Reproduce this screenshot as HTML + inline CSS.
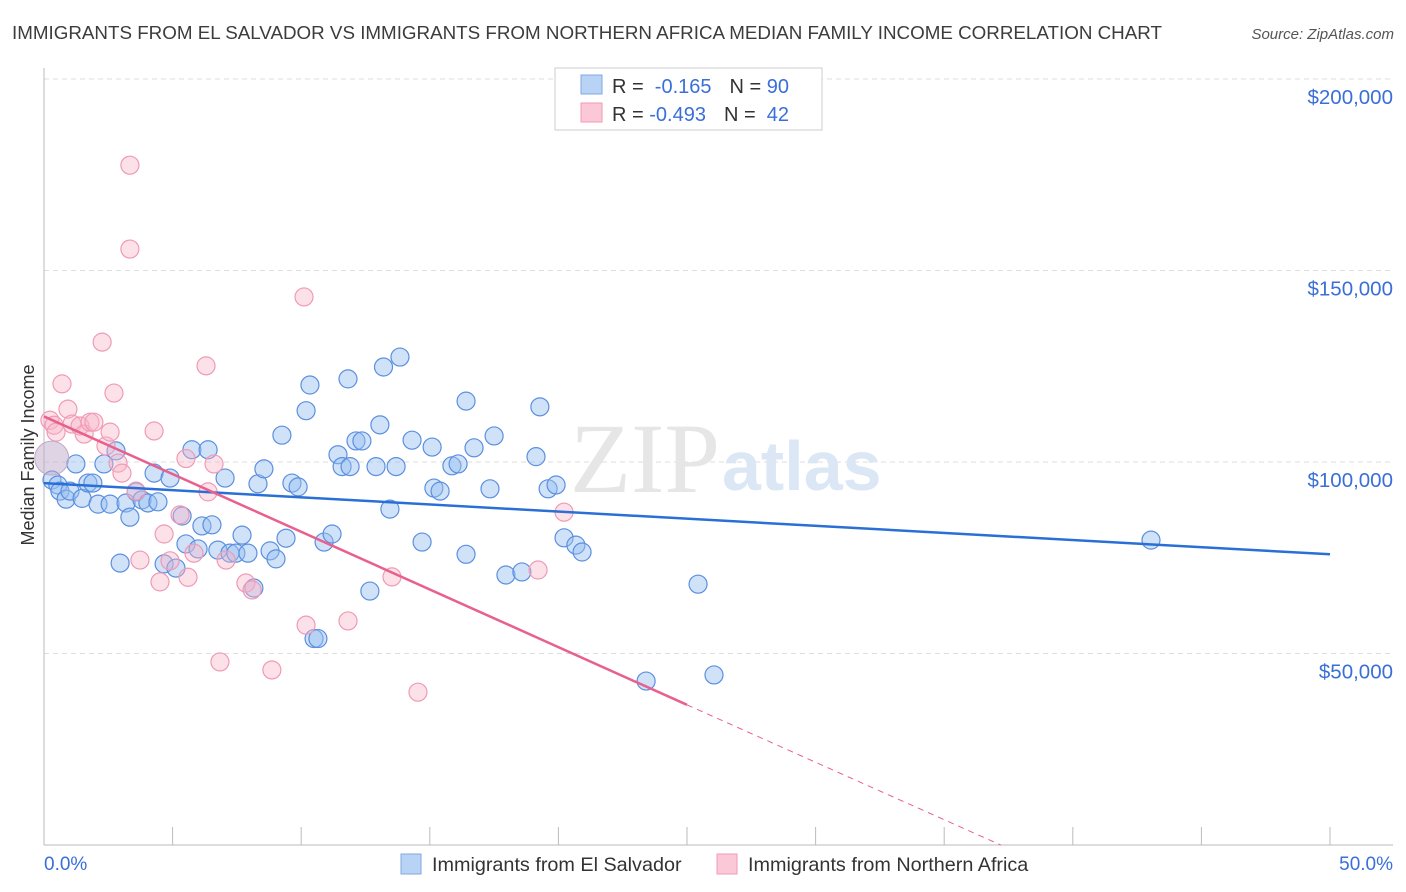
<!DOCTYPE html>
<html><head><meta charset="utf-8"><style>
body{margin:0;background:#fff;font-family:"Liberation Sans",sans-serif;}
#wrap{position:relative;width:1406px;height:892px;overflow:hidden;}
</style></head><body>
<div id="wrap">
<svg id="svg" width="1406" height="892" xmlns="http://www.w3.org/2000/svg">
<text x="12" y="39" font-size="18.8" fill="#3c3c3c">IMMIGRANTS FROM EL SALVADOR VS IMMIGRANTS FROM NORTHERN AFRICA MEDIAN FAMILY INCOME CORRELATION CHART</text>
<text x="1394" y="39" font-size="15" fill="#555" font-style="italic" text-anchor="end">Source: ZipAtlas.com</text>
<text x="34" y="455" font-size="18" fill="#333" text-anchor="middle" transform="rotate(-90 34 455)">Median Family Income</text>
<g id="grid"></g>
<text x="720" y="492" font-size="100" fill="#e6e6e6" font-family="Liberation Serif" text-anchor="end">ZIP</text>
<text x="722" y="490" font-size="70" fill="#dce7f5" font-weight="bold">atlas</text>
<g id="marks"></g>
<g>
<rect x="555" y="68" width="267" height="62" fill="#fff" stroke="#ccc"/>
<rect x="581" y="75" width="21" height="19" fill="#b9d3f5" stroke="#7fa8e6"/>
<rect x="581" y="103" width="21" height="19" fill="#fbc8d8" stroke="#f09ab5"/>
<text x="612" y="93" font-size="20" fill="#333">R = <tspan fill="#3a6fd8">&#160;-0.165</tspan><tspan dx="18">N = </tspan><tspan fill="#3a6fd8">90</tspan></text>
<text x="612" y="121" font-size="20" fill="#333">R = <tspan fill="#3a6fd8">-0.493</tspan><tspan dx="18">N = </tspan><tspan fill="#3a6fd8">&#160;42</tspan></text>
</g>
<g>
<rect x="401" y="854" width="20" height="20" fill="#b9d3f5" stroke="#7fa8e6"/>
<text x="432" y="871" font-size="19.8" fill="#333">Immigrants from El Salvador</text>
<rect x="717" y="854" width="20" height="20" fill="#fbc8d8" stroke="#f09ab5"/>
<text x="748" y="871" font-size="19.8" fill="#333">Immigrants from Northern Africa</text>
</g>
<text x="44" y="870" font-size="19" fill="#3a6fd8">0.0%</text>
<text x="1393" y="870" font-size="19" fill="#3a6fd8" text-anchor="end">50.0%</text>
</svg>
</div>
<script>
const yTicks=[50000,100000,150000,200000];
const yTickLabels=["$50,000","$100,000","$150,000","$200,000"];
const xTicks=[0,5,10,15,20,25,30,35,40,45,50];
const blueX=[0.31,0.54,0.62,0.86,1.01,1.24,1.48,1.71,1.9,2.1,2.33,2.57,2.8,2.96,3.19,3.34,3.58,3.81,4.04,4.28,4.43,4.67,4.9,5.13,5.37,5.52,5.75,5.99,6.14,6.38,6.53,6.76,7.04,7.23,7.46,7.7,7.93,8.16,8.32,8.55,8.79,9.02,9.25,9.41,9.64,9.88,10.19,10.34,10.5,10.65,10.89,11.2,11.43,11.59,11.82,11.9,12.13,12.36,12.67,12.91,13.06,13.2,13.45,13.69,13.84,14.31,14.7,15.09,15.16,15.4,15.86,16.1,16.41,16.41,16.72,17.34,17.5,17.96,18.58,19.13,19.28,19.6,19.91,20.22,20.68,20.92,23.41,25.43,26.05,43.04];
const blueY=[95.3,94.0,92.4,90.3,92.4,99.5,90.5,94.5,94.5,89.0,99.5,89.0,102.9,73.6,89.3,85.6,92.2,90.1,89.3,97.1,89.6,73.4,95.8,72.3,85.9,78.6,103.2,77.3,83.3,103.2,83.6,77.0,95.8,76.2,76.2,80.9,76.2,67.1,94.3,98.2,76.8,74.7,107.0,80.1,94.5,93.5,113.4,120.1,53.9,53.9,79.1,81.2,101.9,98.8,121.7,98.8,105.5,105.5,66.3,98.8,109.7,124.8,87.7,98.8,127.4,105.7,79.1,103.9,93.2,92.4,99.0,99.5,115.9,75.9,103.7,93.0,106.8,70.5,71.3,101.4,114.4,93.0,94.0,80.2,78.3,76.5,42.8,68.1,44.4,79.6];
const pinkX=[0.23,0.39,0.47,0.7,0.93,1.09,1.4,1.56,1.79,1.94,2.26,2.41,2.57,2.72,2.88,3.03,3.34,3.34,3.58,3.73,4.28,4.51,4.67,4.9,5.29,5.52,5.6,5.83,6.3,6.38,6.61,6.84,7.08,7.85,8.09,8.86,10.11,10.19,11.82,13.53,14.54,19.21,20.22];
const pinkY=[110.9,109.6,107.8,120.4,113.8,109.9,109.4,107.3,110.4,110.4,131.3,104.2,107.8,118.0,99.7,97.1,177.5,155.6,92.4,74.4,108.1,68.7,81.2,74.2,86.2,100.9,69.9,76.2,125.1,92.2,99.5,47.8,74.4,68.4,66.6,45.7,143.1,57.4,58.5,70.0,39.9,71.8,86.9];
const X=v=>44+v*25.72, Y=v=>845-v*3.83;
const NS="http://www.w3.org/2000/svg";
const grid=document.getElementById('grid'), marks=document.getElementById('marks');
function mk(tag,attrs,parent){const e=document.createElementNS(NS,tag);for(const k in attrs)e.setAttribute(k,attrs[k]);parent.appendChild(e);return e;}
yTicks.forEach((t,i)=>{
 const l=mk('line',{x1:44,x2:1393,y1:Y(t/1000),y2:Y(t/1000),stroke:'#ddd','stroke-dasharray':'5,4'},grid);
 
 
 const tx=mk('text',{x:1393,y:Y(t/1000)+25,'font-size':20.5,fill:'#3a6fd8','text-anchor':'end'},grid);
 tx.textContent=yTickLabels[i];
 
 
});
const ax=mk('line',{x1:44,x2:1393,y1:845,y2:845,stroke:'#bbb'},grid);


const ay=mk('line',{x1:44,x2:44,y1:68,y2:845,stroke:'#bbb'},grid);


xTicks.forEach(t=>{
 const l=mk('line',{x1:X(t),x2:X(t),y1:827,y2:845,stroke:'#bbb'},grid);
 
 
});
blueX.forEach((x,i)=>{
 const c=mk('circle',{cx:X(x),cy:Y(blueY[i]),r:9,fill:'rgba(150,190,240,0.45)',stroke:'#5b8fe0','stroke-width':1.2},marks);
 
 
});
pinkX.forEach((x,i)=>{
 const c=mk('circle',{cx:X(x),cy:Y(pinkY[i]),r:9,fill:'rgba(248,180,200,0.4)',stroke:'#f09ab5','stroke-width':1.2},marks);
 
 
});
const big=mk('circle',{cx:X(0.3),cy:Y(101),r:17,fill:'rgba(190,170,200,0.5)',stroke:'#c0a8c8'},marks);


const bl=mk('line',{x1:X(0),y1:Y(94.5),x2:X(50),y2:Y(75.9),stroke:'#2a6fd6','stroke-width':2.5},marks);


const pl=mk('line',{x1:X(0),y1:Y(111.9),x2:X(25),y2:Y(36.6),stroke:'#e8608e','stroke-width':2.5},marks);


const pd=mk('line',{x1:X(25),y1:Y(36.6),x2:X(37.2),y2:Y(0),stroke:'#e8608e','stroke-width':1,'stroke-dasharray':'6,5'},marks);


</script>
</body></html>
